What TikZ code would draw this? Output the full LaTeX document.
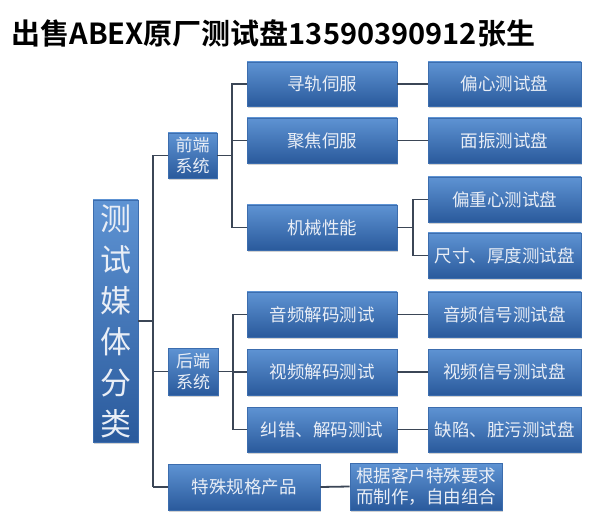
\documentclass[tikz,border=0pt]{standalone}
\usepackage{fontspec}
\newfontfamily\cjk{Noto Sans CJK SC}
\newfontfamily\cjkb{Noto Sans CJK SC Bold}
\usetikzlibrary{shadows}
\definecolor{boxtop}{HTML}{5E93D3}
\definecolor{boxbot}{HTML}{2A5A9C}
\definecolor{boxedge}{HTML}{3C6DAE}
\definecolor{txt}{HTML}{E9EEF6}
\definecolor{wire}{HTML}{3B4656}
\tikzset{
  bx/.style={draw=boxedge, line width=0.6pt, top color=boxtop, bottom color=boxbot,
    text=txt, font=\cjk\fontsize{17.5}{21}\selectfont, align=center, inner sep=0pt,
    drop shadow={shadow xshift=1.2pt, shadow yshift=-1.8pt, opacity=0.35}},
  sm/.style={font=\cjk\fontsize{17}{21}\selectfont},
  wr/.style={draw=wire, line width=1.8pt}
}
\begin{document}
\begin{tikzpicture}[x=1pt,y=-1pt]
\useasboundingbox (0,0) rectangle (600,513);
\fill[white] (0,0) rectangle (600,513);
\node[anchor=west, font=\cjkb\fontsize{29}{32}\selectfont] (title) at (8,33) {出售ABEX原厂测试盘13590390912张生};

% level 0
\node[bx, minimum width=45pt, minimum height=242pt, font=\cjk\fontsize{31}{41}\selectfont] (root) at (115.5,321) {测\\试\\媒\\体\\分\\类};
% level 1
\node[bx, sm, minimum width=49pt, minimum height=45pt] (qd) at (192.5,155.5) {前端\\系统};
\node[bx, sm, minimum width=50pt, minimum height=47pt] (hd) at (193,371.5) {后端\\系统};
\node[bx, minimum width=152pt, minimum height=46pt] (ts) at (244,487) {特殊规格产品};
% level 2
\node[bx, minimum width=150pt, minimum height=44pt] (xg) at (322,84) {寻轨伺服};
\node[bx, minimum width=150pt, minimum height=45pt] (jj) at (322,140.5) {聚焦伺服};
\node[bx, minimum width=150pt, minimum height=45pt] (jx) at (322,227.5) {机械性能};
\node[bx, minimum width=150pt, minimum height=45pt] (yp) at (322,314.5) {音频解码测试};
\node[bx, minimum width=150pt, minimum height=46pt] (sp) at (322,372) {视频解码测试};
\node[bx, minimum width=150pt, minimum height=45pt] (jc) at (322,429.5) {纠错、解码测试};
% level 3
\node[bx, minimum width=153pt, minimum height=44pt] (pxc) at (504.5,84) {偏心测试盘};
\node[bx, minimum width=153pt, minimum height=45pt] (mz) at (504.5,140.5) {面振测试盘};
\node[bx, minimum width=153pt, minimum height=45pt] (pzx) at (504.5,199.5) {偏重心测试盘};
\node[bx, minimum width=153pt, minimum height=45pt] (cc) at (504.5,255.5) {尺寸、厚度测试盘};
\node[bx, minimum width=153pt, minimum height=45pt] (ypx) at (504.5,314.5) {音频信号测试盘};
\node[bx, minimum width=153pt, minimum height=46pt] (spx) at (504.5,372) {视频信号测试盘};
\node[bx, minimum width=153pt, minimum height=45pt] (qx) at (504.5,429.5) {缺陷、脏污测试盘};
\node[bx, minimum width=152pt, minimum height=47pt] (gj) at (426,486.5) {根据客户特殊要求\\而制作，自由组合};

\begin{scope}[on background layer/.try]
\coordinate (t0) at (153,155.5);
\coordinate (t1) at (153,487);
\draw[wr] (root.east) -- (153,321);
\draw[wr] (t0) -- (t1);
\draw[wr] (t0) -- (qd.west);
\draw[wr] (153,371.5) -- (hd.west);
\draw[wr] (t1) -- (ts.west);
\draw[wr] (qd.east) -- ++(15,0);
\draw[wr] (xg.west) -| (232,227.5) -- (jx.west);
\draw[wr] (232,140.5) -- (jj.west);
\draw[wr] (hd.east) -- ++(15,0);
\draw[wr] (yp.west) -| (233,429.5) -- (jc.west);
\draw[wr] (233,372) -- (sp.west);
\draw[wr] (xg.east) -- (pxc.west);
\draw[wr] (jj.east) -- (mz.west);
\draw[wr] (yp.east) -- (ypx.west);
\draw[wr] (sp.east) -- (spx.west);
\draw[wr] (jc.east) -- (qx.west);
\draw[wr] (ts.east) -- (gj.west);
\draw[wr] (jx.east) -- (413,227.5);
\draw[wr] (pzx.west) -| (413,255.5) -- (cc.west);
\end{scope}
\end{tikzpicture}
\end{document}
